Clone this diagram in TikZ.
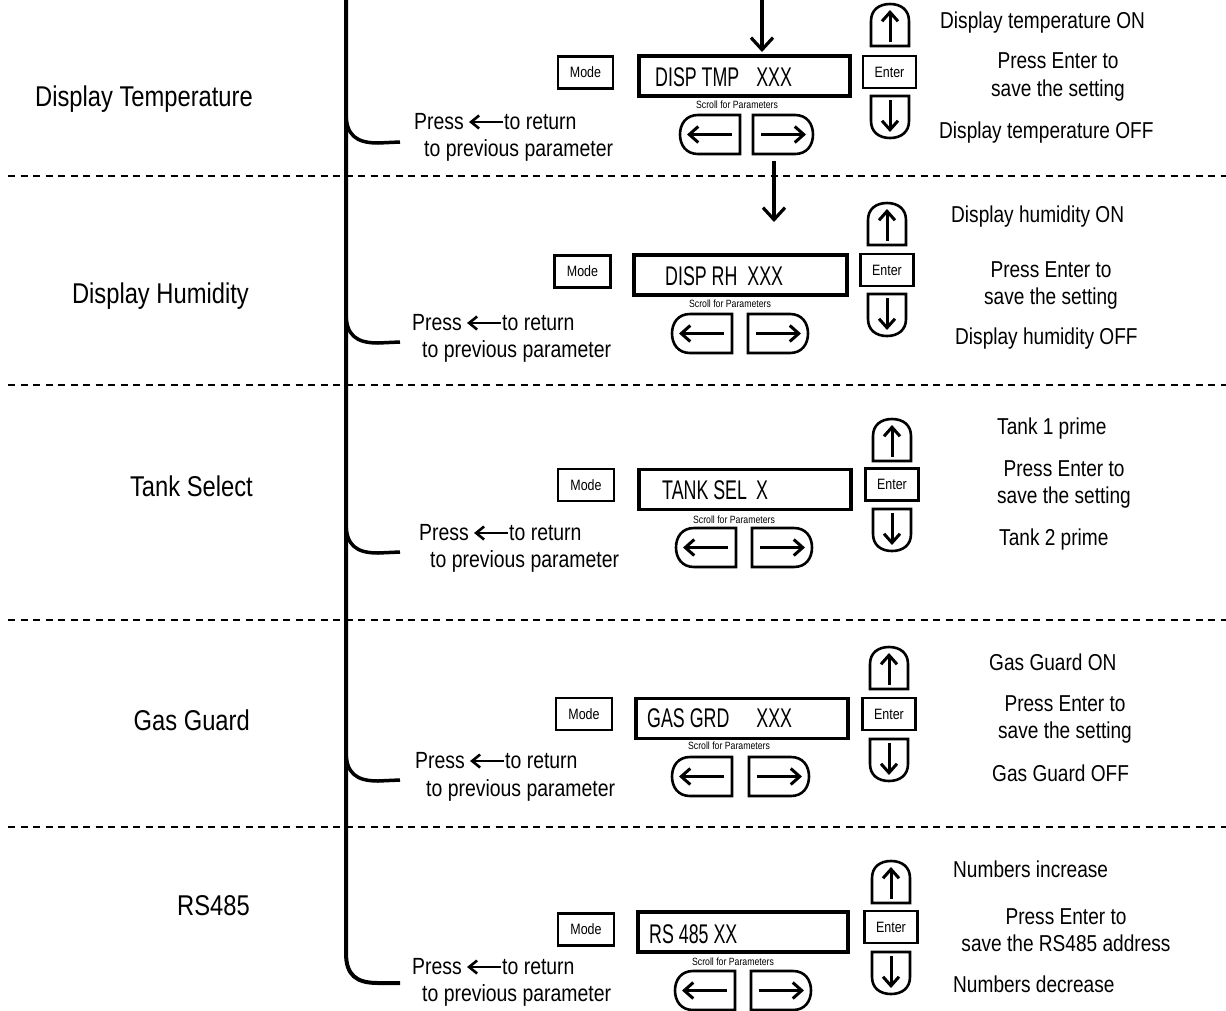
\documentclass[tikz,border=0pt]{standalone}
\usepackage{fontspec}
\setmainfont[FakeStretch=0.83]{Liberation Sans}
\newfontfamily\lcdfont[FakeStretch=0.66]{Liberation Sans}
\usetikzlibrary{arrows.meta}
\tikzset{
  txt/.style={inner sep=0pt, font=\fontsize{23.4}{28}\selectfont},
  rtxt/.style={inner sep=0pt, font=\fontsize{23}{28}\selectfont},
  ttl/.style={inner sep=0pt, font=\fontsize{28.6}{34}\selectfont},
  lcd/.style={inner sep=0pt, font=\lcdfont\fontsize{27}{32}\selectfont},
  sml/.style={inner sep=0pt, font=\fontsize{10.5}{12}\selectfont},
  keybox/.style={draw, line width=2.6pt, minimum width=53pt, minimum height=32pt, inner sep=0pt, font=\fontsize{15}{18}\selectfont},
  lcdbox/.style={draw, line width=3.2pt, minimum width=211pt, minimum height=40pt, inner sep=0pt},
  spine/.style={line width=4pt},
  sepline/.style={line width=2.2pt, dash pattern=on 7pt off 5.5pt},
  flow/.style={line width=3.2pt, -{Straight Barb[length=12pt,width=22pt]}},
  larrow/.style={line width=2.6pt, -{Straight Barb[length=8pt,width=13pt]}},
  btn/.style={line width=2.6pt},
  btnarrow/.style={line width=3pt, -{Straight Barb[length=9pt,width=16pt]}},
  leftbtn/.pic={
    \draw[btn] (60,0) -- (18,0) .. controls (6,0) and (0,9) .. (0,19.5) .. controls (0,30) and (6,39) .. (18,39) -- (60,39) -- cycle;
    \draw[btnarrow] (52,19.5) -- (7,19.5);
  },
  rightbtn/.pic={
    \draw[btn] (0,0) -- (42,0) .. controls (54,0) and (60,9) .. (60,19.5) .. controls (60,30) and (54,39) .. (42,39) -- (0,39) -- cycle;
    \draw[btnarrow] (8,19.5) -- (53,19.5);
  },
  upbtn/.pic={
    \draw[btn] (0,42) -- (0,17) .. controls (0,6) and (8,0) .. (19,0) .. controls (30,0) and (38,6) .. (38,17) -- (38,42) -- cycle;
    \draw[btnarrow] (19,38) -- (19,6);
  },
  downbtn/.pic={
    \draw[btn] (0,0) -- (0,25) .. controls (0,36) and (8,42) .. (19,42) .. controls (30,42) and (38,36) .. (38,25) -- (38,0) -- cycle;
    \draw[btnarrow] (19,4) -- (19,36);
  }
}
\begin{document}
\begin{tikzpicture}[x=1pt,y=-1pt]
\useasboundingbox (0,0) rectangle (1226,1010);

% separators
\foreach \yy in {176,385,620,827}{
  \draw[sepline] (8,\yy) -- (1226,\yy);
}

% spine
\coordinate (spTop) at (346,0);
\coordinate (spEnd) at (400,983);
\draw[spine] (spTop) -- (346,953) .. controls (346,975) and (356,983) .. (378,983) -- (spEnd);

% branches
\foreach \n/\yb in {1/113,2/313,3/523,4/751}{
  \coordinate (br\n) at (346,\yb);
  \coordinate (be\n) at (400,\yb+29);
  \draw[spine, line width=3.5pt] (br\n) .. controls (346,\yb+22) and (356,\yb+30) .. (378,\yb+30) -- (be\n);
}

% flow arrows
\coordinate (a1s) at (762,0);
\coordinate (a1e) at (762,52);
\draw[flow] (a1s) -- (a1e);
\coordinate (a2s) at (774,161);
\coordinate (a2e) at (774,222);
\draw[flow] (a2s) -- (a2e);

% ================= Panel 1
\node[ttl, anchor=base east] (t1) at (253,106) {Display Temperature};
\node[keybox, minimum width=55pt] (m1) at (585.5,72.5) {Mode};
\node[lcdbox] (d1) at (744.5,76) {};
\node[lcd, anchor=base west] (d1t) at (655,86) {DISP TMP\hspace*{17pt}XXX};
\node[sml, anchor=base] (s1) at (737,108) {Scroll for Parameters};
\pic at (680,115) {leftbtn};
\pic at (753,115) {rightbtn};
\pic at (871,4) {upbtn};
\node[keybox] (e1) at (889.5,72) {Enter};
\pic at (871,96) {downbtn};
\node[rtxt, anchor=base west] (r1a) at (940,28) {Display temperature ON};
\node[rtxt, anchor=base] (r1b) at (1058,68) {Press Enter to};
\node[rtxt, anchor=base] (r1c) at (1058,96) {save the setting};
\node[rtxt, anchor=base west] (r1d) at (939,138) {Display temperature OFF};
\node[txt, anchor=base west] (pr1) at (414,129) {Press};
\node[txt, anchor=base west] (rt1) at (504,129) {to return};
\node[txt, anchor=base west] (pv1) at (424,156) {to previous parameter};
\draw[larrow] ([xshift=-1pt,yshift=7pt]rt1.base west) -- ([xshift=5pt,yshift=7pt]pr1.base east);

% ================= Panel 2
\node[ttl, anchor=base east] (t2) at (249,303) {Display Humidity};
\node[keybox, minimum width=56pt] (m2) at (582.5,271.5) {Mode};
\node[lcdbox, minimum width=213pt] (d2) at (740.5,275) {};
\node[lcd, anchor=base west] (d2t) at (665,285) {DISP RH\hspace*{10pt}XXX};
\node[sml, anchor=base] (s2) at (730,307) {Scroll for Parameters};
\pic at (672,314) {leftbtn};
\pic at (748,314) {rightbtn};
\pic at (868,203) {upbtn};
\node[keybox] (e2) at (887,270) {Enter};
\pic at (868,294) {downbtn};
\node[rtxt, anchor=base west] (r2a) at (951,222) {Display humidity ON};
\node[rtxt, anchor=base] (r2b) at (1051,277) {Press Enter to};
\node[rtxt, anchor=base] (r2c) at (1051,304) {save the setting};
\node[rtxt, anchor=base west] (r2d) at (955,344) {Display humidity OFF};
\node[txt, anchor=base west] (pr2) at (412,330) {Press};
\node[txt, anchor=base west] (rt2) at (502,330) {to return};
\node[txt, anchor=base west] (pv2) at (422,357) {to previous parameter};
\draw[larrow] ([xshift=-1pt,yshift=7pt]rt2.base west) -- ([xshift=5pt,yshift=7pt]pr2.base east);

% ================= Panel 3
\node[ttl, anchor=base east] (t3) at (253,496) {Tank Select};
\node[keybox, minimum width=56pt] (m3) at (586,485) {Mode};
\node[lcdbox, minimum width=212pt] (d3) at (745,489.5) {};
\node[lcd, anchor=base west] (d3t) at (662,499) {TANK SEL\hspace*{9pt}X};
\node[sml, anchor=base] (s3) at (734,523) {Scroll for Parameters};
\pic at (676,528) {leftbtn};
\pic at (752,528) {rightbtn};
\pic at (873,419) {upbtn};
\node[keybox] (e3) at (892,484.5) {Enter};
\pic at (873,509) {downbtn};
\node[rtxt, anchor=base west] (r3a) at (997,434) {Tank 1 prime};
\node[rtxt, anchor=base] (r3b) at (1064,476) {Press Enter to};
\node[rtxt, anchor=base] (r3c) at (1064,503) {save the setting};
\node[rtxt, anchor=base west] (r3d) at (999,545) {Tank 2 prime};
\node[txt, anchor=base west] (pr3) at (419,540) {Press};
\node[txt, anchor=base west] (rt3) at (509,540) {to return};
\node[txt, anchor=base west] (pv3) at (430,567) {to previous parameter};
\draw[larrow] ([xshift=-1pt,yshift=7pt]rt3.base west) -- ([xshift=5pt,yshift=7pt]pr3.base east);

% ================= Panel 4
\node[ttl, anchor=base east] (t4) at (250,730) {Gas Guard};
\node[keybox, minimum width=56pt] (m4) at (584,714) {Mode};
\node[lcdbox, minimum width=212pt] (d4) at (742,718.5) {};
\node[lcd, anchor=base west] (d4t) at (647,727) {GAS GRD\hspace*{27pt}XXX};
\node[sml, anchor=base] (s4) at (729,749) {Scroll for Parameters};
\pic at (672,757) {leftbtn};
\pic at (749,757) {rightbtn};
\pic at (870,647) {upbtn};
\node[keybox] (e4) at (889,714) {Enter};
\pic at (870,739) {downbtn};
\node[rtxt, anchor=base west] (r4a) at (989,670) {Gas Guard ON};
\node[rtxt, anchor=base] (r4b) at (1065,711) {Press Enter to};
\node[rtxt, anchor=base] (r4c) at (1065,738) {save the setting};
\node[rtxt, anchor=base west] (r4d) at (992,781) {Gas Guard OFF};
\node[txt, anchor=base west] (pr4) at (415,768) {Press};
\node[txt, anchor=base west] (rt4) at (505,768) {to return};
\node[txt, anchor=base west] (pv4) at (426,796) {to previous parameter};
\draw[larrow] ([xshift=-1pt,yshift=7pt]rt4.base west) -- ([xshift=5pt,yshift=7pt]pr4.base east);

% ================= Panel 5
\node[ttl, anchor=base east] (t5) at (250,915) {RS485};
\node[keybox, minimum width=56pt] (m5) at (586,929.5) {Mode};
\node[lcdbox, minimum width=210pt] (d5) at (743,932) {};
\node[lcd, anchor=base west] (d5t) at (649,943) {RS 485 XX};
\node[sml, anchor=base] (s5) at (733,965) {Scroll for Parameters};
\pic at (675,971) {leftbtn};
\pic at (751,971) {rightbtn};
\pic at (872,861) {upbtn};
\node[keybox] (e5) at (891,927) {Enter};
\pic at (872,952) {downbtn};
\node[rtxt, anchor=base west] (r5a) at (953,877) {Numbers increase};
\node[rtxt, anchor=base] (r5b) at (1066,924) {Press Enter to};
\node[rtxt, anchor=base] (r5c) at (1066,951) {save the RS485 address};
\node[rtxt, anchor=base west] (r5d) at (953,992) {Numbers decrease};
\node[txt, anchor=base west] (pr5) at (412,974) {Press};
\node[txt, anchor=base west] (rt5) at (502,974) {to return};
\node[txt, anchor=base west] (pv5) at (422,1001) {to previous parameter};
\draw[larrow] ([xshift=-1pt,yshift=7pt]rt5.base west) -- ([xshift=5pt,yshift=7pt]pr5.base east);
\end{tikzpicture}
\end{document}
